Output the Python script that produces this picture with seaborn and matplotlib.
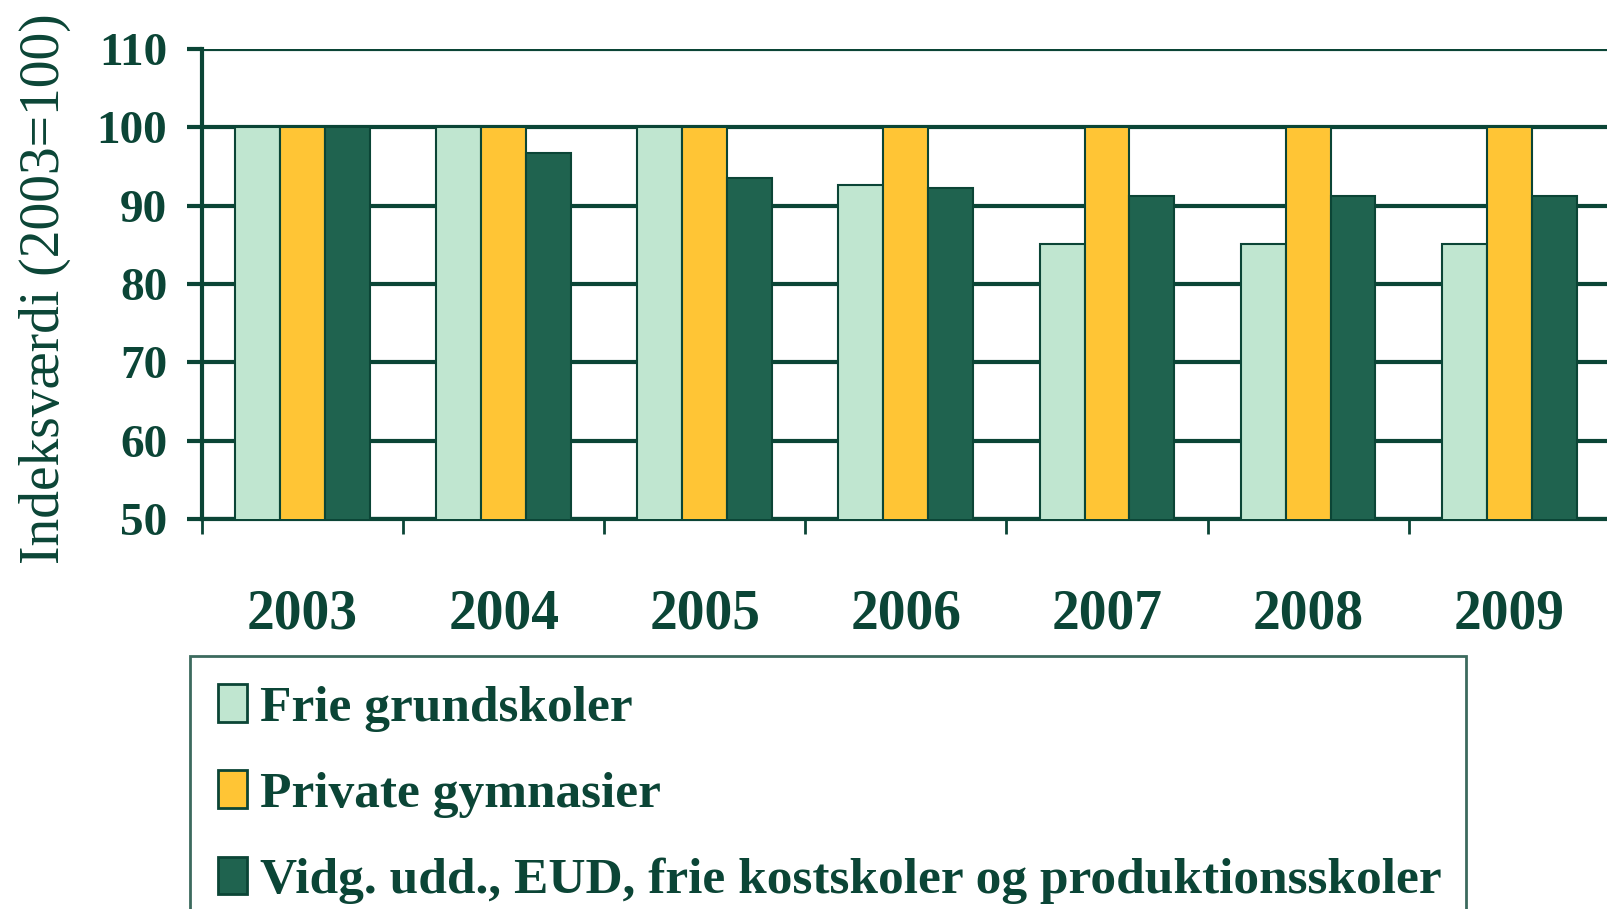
import pandas as pd
import matplotlib
matplotlib.use("Agg")
import matplotlib.pyplot as plt
import seaborn as sns
from matplotlib.patches import Patch
from matplotlib.ticker import FixedLocator

# Data (index, 2003 = 100)
years = ["2003", "2004", "2005", "2006", "2007", "2008", "2009"]
series = ["Frie grundskoler", "Private gymnasier",
          "Vidg. udd., EUD, frie kostskoler og produktionsskoler"]
frie = [100, 100, 100, 92.6, 85.1, 85.1, 85.1]
private = [100, 100, 100, 100, 100, 100, 100]
vidg = [100, 96.7, 93.6, 92.3, 91.2, 91.2, 91.2]

colors = ["#C0E6D0", "#FFC535", "#1F634F"]
dark = "#0B4536"

df = pd.DataFrame({
    "year": years * 3,
    "serie": [series[0]] * 7 + [series[1]] * 7 + [series[2]] * 7,
    "value": frie + private + vidg,
})

sns.set_style("white")
plt.rcParams["font.family"] = ["Liberation Serif", "DejaVu Serif"]
plt.rcParams["font.weight"] = "bold"

fig = plt.figure(figsize=(16.07, 9.09), dpi=100)
ax = fig.add_axes([0.1257, 0.429, 0.876, 0.517])

sns.barplot(data=df, x="year", y="value", hue="serie", hue_order=series,
            palette=colors, saturation=1, width=0.67, edgecolor=dark,
            linewidth=1.5, legend=False, ax=ax, zorder=3)

ax.set_ylim(50, 110)
ax.set_xlim(-0.5, 6.5)
ax.set_yticks(range(50, 111, 10))
ax.grid(axis="y", color=dark, linewidth=3, zorder=0)
ax.set_axisbelow(True)

for s in ["top", "right"]:
    ax.spines[s].set_visible(False)
for s in ["left", "bottom"]:
    ax.spines[s].set_color(dark)
    ax.spines[s].set_linewidth(3)

ax.tick_params(axis="y", direction="out", length=11, width=3, color=dark,
               labelsize=34, labelcolor=dark, pad=14, left=True)
ax.tick_params(axis="x", which="major", length=0, labelsize=40,
               labelcolor=dark, pad=50)
ax.xaxis.set_minor_locator(FixedLocator([i - 0.5 for i in range(8)]))
ax.tick_params(axis="x", which="minor", direction="out", length=11, width=2,
               color=dark, bottom=True)
ax.set_xlabel("")
ax.set_ylabel("")

fig.text(0.028, 0.682, "Indeksværdi (2003=100)", rotation=90,
         ha="center", va="center", fontsize=40, fontweight="normal",
         color=dark)

handles = [Patch(facecolor=c, edgecolor=dark, linewidth=2) for c in colors]
leg = fig.legend(handles, series, loc="upper left",
                 bbox_to_anchor=(0.118, 0.0, 0.794, 1 - 656 / 909),
                 mode="expand", fontsize=37, frameon=True, fancybox=False,
                 borderpad=0.55, labelspacing=0.75, handlelength=0.56,
                 handleheight=0.74, handletextpad=0.25, borderaxespad=0)
leg.get_frame().set_edgecolor(dark)
leg.get_frame().set_linewidth(2)
for t in leg.get_texts():
    t.set_color(dark)

fig.savefig("out.png", dpi=100)
